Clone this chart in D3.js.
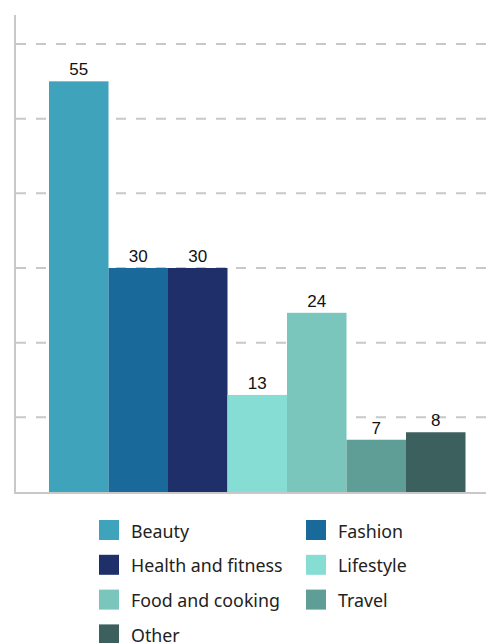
<!DOCTYPE html>
<html lang="en">
  <head>
    <meta charset="utf-8">
    <title>Bar chart</title>
    <script src="https://cdn.jsdelivr.net/npm/d3@7"></script>
    <style>
      body { margin: 0; background: #fff; }
    </style>
  </head>
  <body>
    <div id="chart"></div>
    <script>
      // chart data
      let categories = ['Beauty', 'Fashion', 'Health and fitness', 'Lifestyle', 'Food and cooking', 'Travel', 'Other']
      let values = [55, 30, 30, 13, 24, 7, 8]
      let colors = ['#3fa3bb', '#196a9b', '#1f2f6a', '#86ddd4', '#7bc6bc', '#5e9e96', '#3c605d']
      let yTicks = [10, 20, 30, 40, 50, 60]

      let width = 486, height = 643
      let svg = d3.select('#chart').append('svg')
        .attr('width', width)
        .attr('height', height)

      let baseY = 492
      let scale_x = d3.scaleBand()
        .domain(categories)
        .range([49, 465.5])
        .padding(0)

      let scale_y = d3.scaleLinear()
        .domain([0, 60])
        .range([baseY, 44])

      // dashed gridlines
      svg.append('g')
        .selectAll('line')
        .data(yTicks)
        .enter()
        .append('line')
        .attr('x1', 16)
        .attr('x2', width)
        .attr('y1', d => scale_y(d))
        .attr('y2', d => scale_y(d))
        .attr('stroke', '#c8c8c8')
        .attr('stroke-width', 2)
        .attr('stroke-dasharray', '10,10')

      // bars
      svg.append('g')
        .selectAll('rect')
        .data(values)
        .enter()
        .append('rect')
        .attr('x', (d, i) => scale_x(categories[i]))
        .attr('y', d => scale_y(d))
        .attr('width', scale_x.bandwidth())
        .attr('height', d => baseY - scale_y(d))
        .style('fill', (d, i) => colors[i])

      // value labels
      svg.append('g')
        .selectAll('text')
        .data(values)
        .enter()
        .append('text')
        .attr('x', (d, i) => scale_x(categories[i]) + scale_x.bandwidth() / 2)
        .attr('y', d => scale_y(d) - 6)
        .attr('text-anchor', 'middle')
        .attr('font-family', 'Liberation Sans, Arial, sans-serif')
        .attr('font-size', '17px')
        .attr('fill', '#111')
        .text(d => d)

      // axis lines
      svg.append('line')
        .attr('x1', 15).attr('x2', 15)
        .attr('y1', 15).attr('y2', baseY)
        .attr('stroke', '#c8c8c8')
        .attr('stroke-width', 2)
      svg.append('line')
        .attr('x1', 14).attr('x2', width)
        .attr('y1', baseY + 1).attr('y2', baseY + 1)
        .attr('stroke', '#c8c8c8')
        .attr('stroke-width', 2)

      // legend, two columns
      let legend = svg.append('g')
        .selectAll('g')
        .data(categories)
        .enter()
        .append('g')
        .attr('transform', (d, i) => 'translate(' + (i % 2 == 0 ? 99 : 306) + ',' + (520 + Math.floor(i / 2) * 34.8) + ')')

      legend.append('rect')
        .attr('width', 20)
        .attr('height', 20)
        .style('fill', (d, i) => colors[i])

      legend.append('text')
        .attr('x', 32)
        .attr('y', 17.5)
        .attr('font-family', 'Noto Sans, sans-serif')
        .attr('font-size', '17.8px')
        .attr('fill', '#222')
        .text(d => d)
    </script>
  </body>
</html>
